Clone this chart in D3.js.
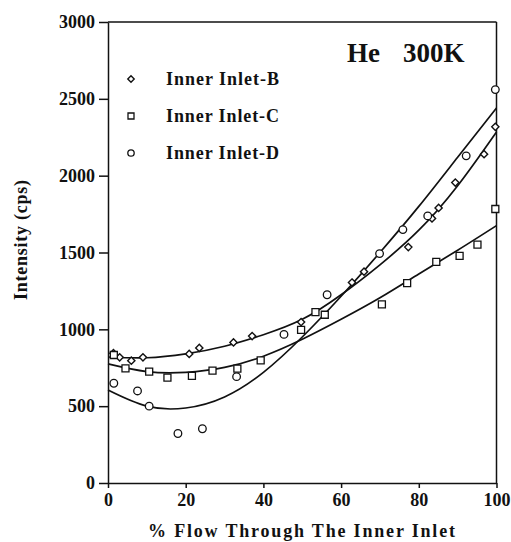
<!DOCTYPE html>
<html>
<head>
<meta charset="utf-8">
<script src="https://cdn.jsdelivr.net/npm/d3@7"></script>
<style>
  body { margin: 0; background: #fff; }
  text { font-family: "Liberation Serif", "Times New Roman", serif; font-weight: bold; fill: #111; }
</style>
</head>
<body>
<svg id="chart" width="511" height="542"></svg>
<script>
// measured points, % flow vs intensity (cps)
var inletB_x = [1.4, 3.0, 6.0, 9.0, 20.9, 23.5, 32.3, 37.1, 49.7, 62.8, 65.9, 77.3, 83.4, 85.1, 89.4, 96.8, 99.7];
var inletB_y = [845, 818, 796, 818, 840, 879, 915, 956, 1047, 1305, 1375, 1535, 1722, 1790, 1955, 2140, 2318];

var inletC_x = [1.5, 4.5, 10.6, 15.3, 21.6, 26.9, 33.3, 39.3, 49.7, 53.4, 55.8, 70.5, 77.0, 84.5, 90.5, 95.1, 99.7];
var inletC_y = [833, 746, 725, 686, 697, 731, 744, 798, 997, 1112, 1095, 1162, 1301, 1439, 1478, 1551, 1783];

var inletD_x = [1.5, 7.6, 10.6, 18.0, 24.3, 33.1, 45.3, 56.4, 69.9, 75.9, 82.3, 92.2, 99.7];
var inletD_y = [649, 599, 500, 322, 353, 692, 967, 1225, 1493, 1649, 1738, 2129, 2560];

// fitted curves, every 10 %
var fitX = [0, 10, 20, 30, 40, 50, 60, 70, 80, 90, 100];
var fitB = [820, 815, 840, 890, 965, 1065, 1225, 1420, 1645, 1935, 2285];
var fitC = [775, 725, 720, 752, 825, 935, 1065, 1205, 1360, 1515, 1675];
var fitD = [605, 500, 488, 560, 720, 950, 1215, 1500, 1800, 2120, 2440];

var xTicks = [0, 20, 40, 60, 80, 100];
var yTicks = [0, 500, 1000, 1500, 2000, 2500, 3000];
var legendNames = ["Inner Inlet-B", "Inner Inlet-C", "Inner Inlet-D"];

var svg = d3.select("#chart");

var x = d3.scaleLinear().domain([0, 100]).range([108, 496.5]);
var y = d3.scaleLinear().domain([0, 3000]).range([483, 22]);

// axes
var yAxis = svg.append("g")
  .attr("transform", "translate(" + x(0) + ",0)")
  .call(d3.axisLeft(y).tickValues(yTicks).tickFormat(d3.format("d"))
    .tickSize(9).tickSizeOuter(0).tickPadding(4));
var xAxis = svg.append("g")
  .attr("transform", "translate(0," + y(0) + ")")
  .call(d3.axisBottom(x).tickValues(xTicks).tickFormat(d3.format("d"))
    .tickSize(5).tickSizeOuter(0).tickPadding(5.5));

[xAxis, yAxis].forEach(function(g){
  g.selectAll("path, line").attr("stroke", "#111").attr("stroke-width", 1.5);
  g.selectAll("text").attr("font-size", 18).attr("fill", "#111")
    .style("font-family", "'Liberation Serif', serif").style("font-weight", "bold");
});

// frame top + right
svg.append("line").attr("x1", x(0)).attr("x2", x(100)).attr("y1", y(3000)).attr("y2", y(3000))
  .attr("stroke", "#111").attr("stroke-width", 1.5);
svg.append("line").attr("x1", x(100)).attr("x2", x(100)).attr("y1", y(3000)).attr("y2", y(0))
  .attr("stroke", "#111").attr("stroke-width", 1.5);

// fitted lines
var line = d3.line()
  .x(function(d){ return x(d[0]); })
  .y(function(d){ return y(d[1]); })
  .curve(d3.curveNatural);

[fitB, fitC, fitD].forEach(function(vals){
  svg.append("path")
    .datum(fitX.map(function(v, i){ return [v, vals[i]]; }))
    .attr("d", line)
    .attr("fill", "none")
    .attr("stroke", "#111")
    .attr("stroke-width", 1.7);
});

// markers
function diamond(cx, cy, r){
  return "M" + cx + "," + (cy - r) + "L" + (cx + r) + "," + cy + "L" + cx + "," + (cy + r) + "L" + (cx - r) + "," + cy + "Z";
}
function square(cx, cy, r){
  return "M" + (cx - r) + "," + (cy - r) + "h" + (2*r) + "v" + (2*r) + "h" + (-2*r) + "Z";
}

svg.append("g").selectAll("path")
  .data(inletB_x.map(function(v, i){ return [v, inletB_y[i]]; }))
  .enter().append("path")
  .attr("d", function(d){ return diamond(x(d[0]), y(d[1]), 3.6); })
  .attr("fill", "#fff").attr("stroke", "#111").attr("stroke-width", 1.4);

svg.append("g").selectAll("path")
  .data(inletC_x.map(function(v, i){ return [v, inletC_y[i]]; }))
  .enter().append("path")
  .attr("d", function(d){ return square(x(d[0]), y(d[1]), 3.5); })
  .attr("fill", "#fff").attr("stroke", "#111").attr("stroke-width", 1.3);

svg.append("g").selectAll("circle")
  .data(inletD_x.map(function(v, i){ return [v, inletD_y[i]]; }))
  .enter().append("circle")
  .attr("cx", function(d){ return x(d[0]); })
  .attr("cy", function(d){ return y(d[1]); })
  .attr("r", 3.8)
  .attr("fill", "#fff").attr("stroke", "#111").attr("stroke-width", 1.3);

// legend
var legendY = [79, 116, 153];
legendNames.forEach(function(name, i){
  var cy = legendY[i];
  if(i == 0)
    svg.append("path").attr("d", diamond(131, cy, 3.2)).attr("fill", "#fff").attr("stroke", "#111").attr("stroke-width", 1.4);
  else if(i == 1)
    svg.append("path").attr("d", square(131, cy, 3)).attr("fill", "#fff").attr("stroke", "#111").attr("stroke-width", 1.3);
  else
    svg.append("circle").attr("cx", 131).attr("cy", cy).attr("r", 3.2).attr("fill", "#fff").attr("stroke", "#111").attr("stroke-width", 1.3);
  svg.append("text")
    .attr("x", 166).attr("y", cy + 5.5)
    .attr("font-size", 18)
    .attr("textLength", 113).attr("lengthAdjust", "spacing")
    .text(name);
});

// title
svg.append("text").attr("x", 347).attr("y", 62).attr("font-size", 27).text("He");
svg.append("text").attr("x", 403).attr("y", 62).attr("font-size", 27).text("300K");

// axis titles
svg.append("text")
  .attr("x", 301.5).attr("y", 537)
  .attr("text-anchor", "middle")
  .attr("font-size", 18)
  .attr("textLength", 307).attr("lengthAdjust", "spacing")
  .text("% Flow Through The Inner Inlet");

svg.append("text")
  .attr("transform", "translate(26.5,240) rotate(-90)")
  .attr("text-anchor", "middle")
  .attr("font-size", 18)
  .attr("textLength", 120).attr("lengthAdjust", "spacing")
  .text("Intensity (cps)");
</script>
</body>
</html>
